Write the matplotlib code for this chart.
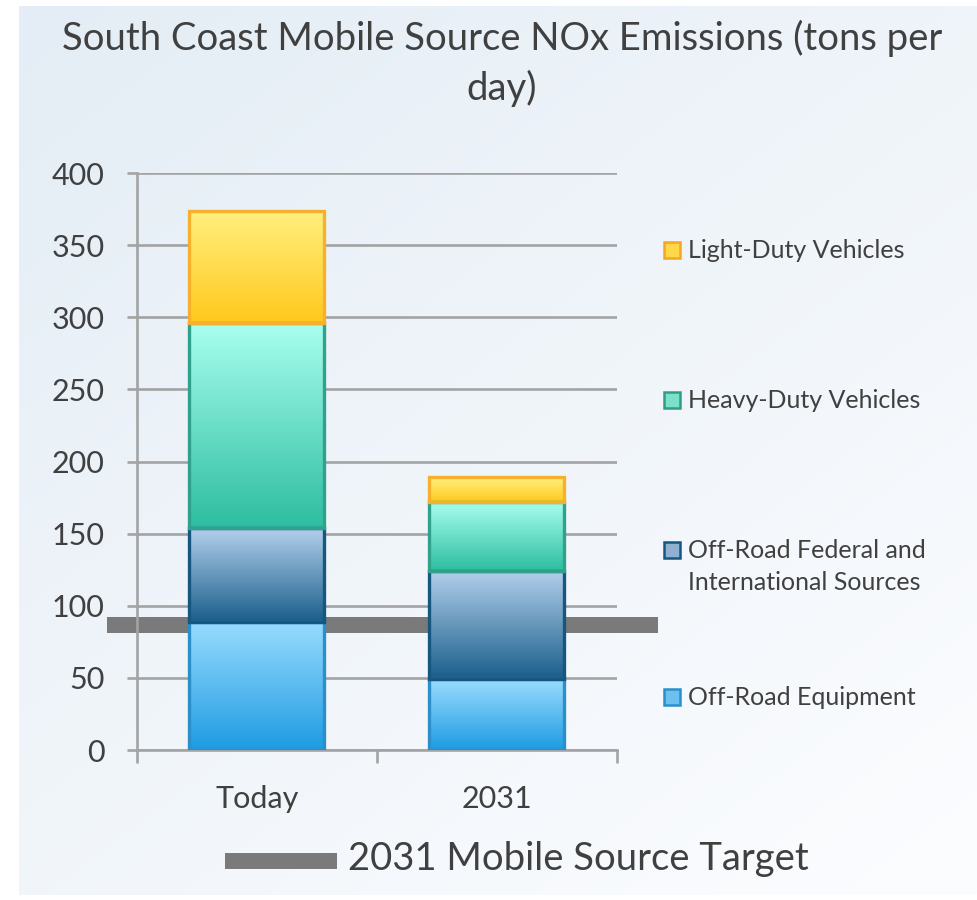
import numpy as np
import matplotlib
matplotlib.use("Agg")
import matplotlib.pyplot as plt
from matplotlib.lines import Line2D
from matplotlib.patches import Rectangle
from matplotlib.colors import LinearSegmentedColormap

# ---- data ----
categories = ["Today", "2031"]
series_names = ["Off-Road Equipment", "Off-Road Federal and\nInternational Sources",
                "Heavy-Duty Vehicles", "Light-Duty Vehicles"]
off_road_equipment = [89, 49]
off_road_federal = [65, 75]
heavy_duty = [142, 48]
light_duty = [78, 17]
target_2031 = 87
y_ticks = [0, 50, 100, 150, 200, 250, 300, 350, 400]

plt.rcParams['font.family'] = ['Lato', 'DejaVu Sans']
TXT = '#404040'

fig = plt.figure(figsize=(9.78, 9.0), dpi=100)
fig.patch.set_facecolor('white')

# background gradient panel
bg = fig.add_axes([19/978, 5/900, 1 - 19/978, 1 - 11/900])
bg.set_axis_off()
yy, xx = np.mgrid[0:1:200j, 0:1:200j]
t = np.clip(0.55 * yy + 0.45 * xx, 0, 1)
c0 = np.array([228, 237, 245]) / 255
c1 = np.array([252, 253, 255]) / 255
img = c0[None, None, :] * (1 - t[..., None]) + c1[None, None, :] * t[..., None]
bg.imshow(img, aspect='auto', extent=[0, 1, 1, 0], interpolation='bilinear')
bg.set_xlim(0, 1); bg.set_ylim(1, 0)

ax = fig.add_axes([137/978, 1 - 750/900, 480/978, 577/900])
ax.set_facecolor('none')
ax.set_xlim(-0.5, 1.5)
ax.set_ylim(0, 400)

GRID = '#a3a3a3'
ax.set_yticks(y_ticks)
ax.yaxis.grid(True, color=GRID, lw=1.9, zorder=0)
ax.set_axisbelow(True)
for s in ['top', 'right']:
    ax.spines[s].set_visible(False)
for s in ['left', 'bottom']:
    ax.spines[s].set_color(GRID)
    ax.spines[s].set_linewidth(1.9)
ax.tick_params(axis='y', length=7.5, width=1.9, color=GRID, pad=16,
               labelsize=22, labelcolor=TXT)
x = np.arange(len(categories))
ax.set_xticks(x)
ax.set_xticklabels(categories)
ax.set_xticks([-0.5, 0.5, 1.5], minor=True)
ax.tick_params(axis='x', which='major', length=0, pad=25, labelsize=22, labelcolor=TXT)
ax.tick_params(axis='x', which='minor', length=9, width=1.9, color=GRID)

# target line (behind bars)
ax.add_line(Line2D([-0.625, 1.67], [target_2031, target_2031], color='#7a7a7a',
                   lw=11.5, solid_capstyle='butt', clip_on=False, zorder=1))

styles = [
    (off_road_equipment, '#9adcff', '#1e9be2', '#2b8fca'),
    (off_road_federal, '#b3d0ec', '#1a5e8b', '#16577f'),
    (heavy_duty, '#a9fff0', '#2dbd9f', '#30a28b'),
    (light_duty, '#fff080', '#ffc81c', '#f7b02c'),
]

width = 135 / 240
bottom = np.zeros(len(categories))
for vals, ctop, cbot, cedge in styles:
    vals = np.array(vals, dtype=float)
    bars = ax.bar(x, vals, width, bottom=bottom, color='none', edgecolor=cedge,
                  linewidth=2.4, zorder=4)
    cmap = LinearSegmentedColormap.from_list('g', [cbot, ctop])
    grad = np.linspace(0, 1, 256).reshape(-1, 1)
    for b in bars:
        x0, y0 = b.get_x(), b.get_y()
        w, h = b.get_width(), b.get_height()
        im = ax.imshow(grad, cmap=cmap, aspect='auto', origin='lower',
                       extent=[x0, x0 + w, y0, y0 + h], zorder=3)
        im.set_clip_path(b)
    bottom += vals

ax.set_xlim(-0.5, 1.5)
ax.set_ylim(0, 400)

# title
fig.text(502/978, 1 - 38/900, "South Coast Mobile Source NOx Emissions (tons per",
         ha='center', va='center', fontsize=27.5, color=TXT)
fig.text(502/978, 1 - 88/900, "day)", ha='center', va='center', fontsize=27.5, color=TXT)

# right legend
leg_items = [
    ("Light-Duty Vehicles", 250, '#ffd84a', '#f5a623'),
    ("Heavy-Duty Vehicles", 400, '#7de0c8', '#2f9e88'),
    ("Off-Road Federal and\nInternational Sources", 550, '#8fb0d0', '#16577f'),
    ("Off-Road Equipment", 697, '#6cc0f0', '#2b8fca'),
]
for label, ypx, fc, ec in leg_items:
    fig.patches.append(Rectangle((664/978, 1 - (ypx + 8)/900), 16/978, 16/900,
                                 transform=fig.transFigure, facecolor=fc,
                                 edgecolor=ec, linewidth=1.8))
    fig.text(688/978, 1 - (ypx - 11)/900, label, ha='left', va='top',
             fontsize=18, color=TXT, linespacing=1.5)

# bottom legend
fig.add_artist(Line2D([225/978, 337/978], [1 - 861/900, 1 - 861/900],
                      transform=fig.transFigure, color='#7a7a7a', lw=11.5,
                      solid_capstyle='butt'))
fig.text(348/978, 1 - 859/900, "2031 Mobile Source Target", ha='left', va='center',
         fontsize=27.5, color=TXT)

fig.savefig("out.png", dpi=100, facecolor='white')
